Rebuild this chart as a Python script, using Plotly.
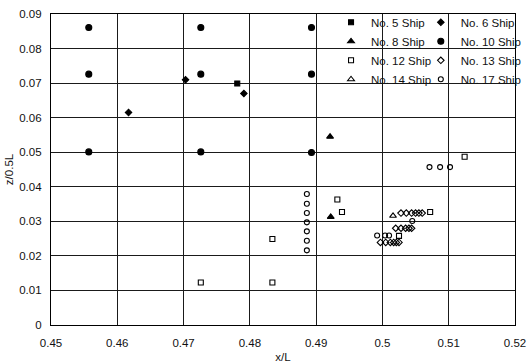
import plotly.graph_objects as go

# ---- data ----
ship5_x = [0.4781]
ship5_y = [0.0699]

ship6_x = [0.4617, 0.4703, 0.4791]
ship6_y = [0.0615, 0.0710, 0.0670]

ship8_x = [0.4921, 0.4922]
ship8_y = [0.0545, 0.0313]

ship10_x = [0.4557, 0.4557, 0.4557, 0.4726, 0.4726, 0.4726, 0.4893, 0.4893, 0.4893]
ship10_y = [0.0861, 0.0726, 0.0501, 0.0861, 0.0726, 0.0501, 0.0861, 0.0726, 0.0499]

ship12_x = [0.4726, 0.4834, 0.4834, 0.4932, 0.4939, 0.5025, 0.5072, 0.5124]
ship12_y = [0.0123, 0.0123, 0.0249, 0.0363, 0.0327, 0.0258, 0.0327, 0.0487]

ship13_x = [0.5028, 0.5036, 0.5044, 0.5050, 0.5055, 0.5060,
            0.5020, 0.5028, 0.5035, 0.5040, 0.5044,
            0.4997, 0.5005, 0.5012, 0.5017, 0.5021, 0.5025]
ship13_y = [0.0324, 0.0324, 0.0324, 0.0324, 0.0324, 0.0324,
            0.0280, 0.0280, 0.0280, 0.0280, 0.0280,
            0.0239, 0.0239, 0.0239, 0.0239, 0.0239, 0.0239]

ship14_x = [0.5016]
ship14_y = [0.0316]

ship17_x = [0.4886, 0.4886, 0.4886, 0.4886, 0.4886, 0.4886, 0.4886,
            0.5071, 0.5087, 0.5102, 0.5045, 0.4992, 0.5004, 0.5010]
ship17_y = [0.0379, 0.0351, 0.0324, 0.0297, 0.0271, 0.0244, 0.0216,
            0.0457, 0.0457, 0.0457, 0.0301, 0.0259, 0.0259, 0.0259]

x_ticks = [0.45, 0.46, 0.47, 0.48, 0.49, 0.50, 0.51, 0.52]
x_ticktext = ["0.45", "0.46", "0.47", "0.48", "0.49", "0.5", "0.51", "0.52"]
y_ticks = [0.0, 0.01, 0.02, 0.03, 0.04, 0.05, 0.06, 0.07, 0.08, 0.09]
y_ticktext = ["0", "0.01", "0.02", "0.03", "0.04", "0.05", "0.06", "0.07", "0.08", "0.09"]

FONT = "Liberation Sans, Arial, sans-serif"

series = [
    ("No. 5 Ship", ship5_x, ship5_y, "square", 5, "legend2"),
    ("No. 6 Ship", ship6_x, ship6_y, "diamond", 5, "legend"),
    ("No. 8 Ship", ship8_x, ship8_y, "triangle-up", 6, "legend2"),
    ("No. 10 Ship", ship10_x, ship10_y, "circle", 6, "legend"),
    ("No. 12 Ship", ship12_x, ship12_y, "square-open", 5, "legend2"),
    ("No. 13 Ship", ship13_x, ship13_y, "diamond-open", 5, "legend"),
    ("No. 14 Ship", ship14_x, ship14_y, "triangle-up-open", 6, "legend2"),
    ("No. 17 Ship", ship17_x, ship17_y, "circle-open", 5, "legend"),
]

fig = go.Figure()
for name, xs, ys, sym, size, leg in series:
    fig.add_trace(go.Scatter(
        x=xs, y=ys, mode="markers", name=name, legend=leg,
        marker=dict(symbol=sym, size=size, color="black",
                    line=dict(color="black", width=1.1)),
    ))

axis_common = dict(
    showgrid=True, gridcolor="#1a1a1a", gridwidth=1,
    showline=True, linecolor="black", linewidth=1.2, mirror=True,
    zeroline=False, ticks="",
    tickfont=dict(family=FONT, size=11.5, color="#111"),
)

fig.update_layout(
    width=527, height=363,
    margin=dict(l=51, r=12, t=14, b=38, autoexpand=False),
    paper_bgcolor="white", plot_bgcolor="white",
    font=dict(family=FONT, color="#111"),
    xaxis=dict(range=[0.45, 0.52], tickvals=x_ticks, ticktext=x_ticktext,
               ticklabelstandoff=7,
               title=dict(text="x/L", font=dict(family=FONT, size=11.5), standoff=10),
               automargin=False,
               **axis_common),
    yaxis=dict(range=[0.0, 0.09], tickvals=y_ticks, ticktext=y_ticktext,
               ticklabelstandoff=6,
               title=dict(text="z/0.5L", font=dict(family=FONT, size=11.5), standoff=3),
               automargin=False,
               **axis_common),
    legend2=dict(x=0.6035, xanchor="left", y=1.02, yanchor="top",
                 bgcolor="rgba(0,0,0,0)", font=dict(family=FONT, size=11.5),
                 itemwidth=30),
    legend=dict(x=0.797, xanchor="left", y=1.02, yanchor="top",
                bgcolor="rgba(0,0,0,0)", font=dict(family=FONT, size=11.5),
                itemwidth=30),
    shapes=[dict(type="rect", xref="paper", yref="paper",
                 x0=0.634, x1=1.0, y0=0.787, y1=1.0,
                 fillcolor="white", line=dict(width=0), layer="between")],
)

fig.write_html("out.html")
